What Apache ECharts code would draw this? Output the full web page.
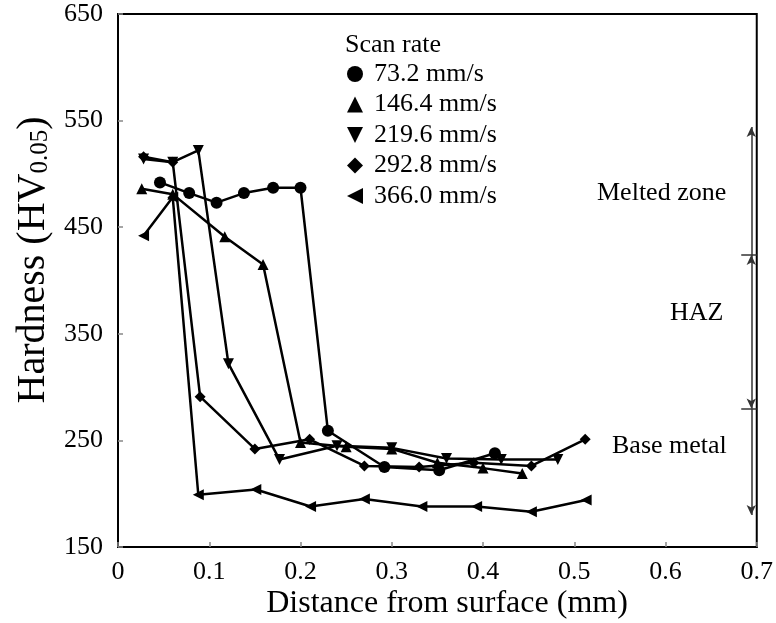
<!DOCTYPE html>
<html>
<head>
<meta charset="utf-8">
<script src="https://cdn.jsdelivr.net/npm/echarts@6/dist/echarts.min.js"></script>
<style>
  html, body { margin: 0; padding: 0; background: #fff; }
  #chart { width: 776px; height: 623px; }
</style>
</head>
<body>
<div id="chart"></div>
<script>
// hardness profiles, [distance (mm), hardness (HV0.05)]
const rate732 = [[0.046, 492], [0.078, 482], [0.108, 473], [0.138, 482], [0.170, 487], [0.200, 487], [0.230, 259], [0.292, 225], [0.352, 222], [0.413, 238]];
const rate1464 = [[0.026, 486], [0.060, 481], [0.117, 441], [0.159, 415], [0.200, 248], [0.250, 244], [0.300, 242], [0.350, 229], [0.400, 224], [0.443, 219]];
const rate2196 = [[0.028, 514], [0.060, 511], [0.088, 522], [0.121, 322], [0.177, 232], [0.240, 245], [0.300, 243], [0.360, 233], [0.420, 232], [0.482, 232]];
const rate2928 = [[0.028, 516], [0.060, 511], [0.090, 291], [0.150, 242], [0.210, 251], [0.270, 226], [0.330, 225], [0.390, 229], [0.453, 226], [0.512, 251]];
const rate3660 = [[0.028, 442], [0.060, 478], [0.088, 199], [0.151, 204], [0.211, 188], [0.270, 195], [0.333, 188], [0.393, 188], [0.453, 183], [0.513, 194]];

const seriesNames = ["73.2 mm/s", "146.4 mm/s", "219.6 mm/s", "292.8 mm/s", "366.0 mm/s"];
const xTicks = { min: 0, max: 0.7, interval: 0.1 };
const yTicks = { min: 150, max: 650, interval: 100 };

// zone bracket on the right: x position and hardness boundaries
const zoneX = 0.694;
const zoneBounds = [544, 424, 280, 180];

const font = "Liberation Serif";
const downTri = "path://M0,0 L10,0 L5,10 Z";
const leftTri = "path://M0,5 L10,0 L10,10 Z";
const symbols = ["circle", "triangle", downTri, "diamond", leftTri];
const dataSets = [rate732, rate1464, rate2196, rate2928, rate3660];

const chart = echarts.init(document.getElementById("chart"));

const series = dataSets.map((d, i) => ({
  name: seriesNames[i],
  type: "line",
  data: d,
  symbol: symbols[i],
  symbolSize: i === 0 ? 12 : 11,
  showAllSymbol: true,
  animation: false,
  lineStyle: { color: "#000", width: 2.5 },
  itemStyle: { color: "#000" }
}));

// bracket arrows
const seg = (y1, y2, s) => [{ coord: [zoneX, y1], symbol: s[0] }, { coord: [zoneX, y2], symbol: s[1] }];
const tick = (y) => [{ coord: [0.683, y], symbol: "none" }, { coord: [0.7, y], symbol: "none" }];
series.push({
  type: "line",
  data: [],
  animation: false,
  markLine: {
    silent: true,
    symbolSize: [7, 10],
    label: { show: false },
    lineStyle: { color: "#333", width: 1.5, type: "solid" },
    data: [
      seg(zoneBounds[1], zoneBounds[0], ["none", "arrow"]),
      seg(zoneBounds[1], zoneBounds[2], ["arrow", "arrow"]),
      seg(zoneBounds[2], zoneBounds[3], ["none", "arrow"]),
      tick(zoneBounds[1]),
      tick(zoneBounds[2])
    ]
  }
});

const txt = (size) => size + "px " + font;

chart.setOption({
  backgroundColor: "#fff",
  textStyle: { fontFamily: font },
  grid: { left: 118, right: 19, top: 14, bottom: 76, show: true, borderColor: "#000", borderWidth: 2 },
  legend: {
    data: seriesNames.map((n, i) => ({ name: n, icon: symbols[i] })),
    orient: "vertical",
    left: 347,
    top: 61,
    padding: 0,
    itemWidth: 16,
    itemHeight: 16,
    itemGap: 4.5,
    textStyle: { fontFamily: font, fontSize: 26, lineHeight: 26, color: "#000", padding: [0, 0, 0, 6] },
    selectedMode: false
  },
  xAxis: {
    type: "value",
    min: xTicks.min,
    max: xTicks.max,
    interval: xTicks.interval,
    axisLine: { lineStyle: { color: "#000", width: 2 } },
    axisTick: { inside: true, length: 5, lineStyle: { color: "#888", width: 1.5 } },
    axisLabel: { fontFamily: font, fontSize: 26, color: "#000", margin: 12 },
    splitLine: { show: false }
  },
  yAxis: {
    type: "value",
    min: yTicks.min,
    max: yTicks.max,
    interval: yTicks.interval,
    axisLine: { lineStyle: { color: "#000", width: 2 } },
    axisTick: { inside: true, length: 5, lineStyle: { color: "#888", width: 1.5 } },
    axisLabel: { fontFamily: font, fontSize: 26, color: "#000", margin: 15 },
    splitLine: { show: false }
  },
  graphic: [
    { type: "text", left: 345, top: 32, style: { text: "Scan rate", font: txt(26), fill: "#000" } },
    { type: "text", left: 597, top: 180, style: { text: "Melted zone", font: txt(26), fill: "#000" } },
    { type: "text", left: 670, top: 300, style: { text: "HAZ", font: txt(26), fill: "#000" } },
    { type: "text", left: 612, top: 433, style: { text: "Base metal", font: txt(26), fill: "#000" } },
    {
      type: "text", x: 447, y: 604,
      style: { text: "Distance from surface (mm)", font: txt(32), fill: "#000", align: "center", verticalAlign: "middle" }
    },
    {
      type: "text", x: 33, y: 260, rotation: Math.PI / 2,
      style: {
        text: "{a|Hardness (HV}{b|0.05}{a|)}",
        align: "center",
        verticalAlign: "middle",
        rich: {
          a: { fontFamily: font, fontSize: 40, fill: "#000", color: "#000" },
          b: { fontFamily: font, fontSize: 25, fill: "#000", color: "#000", padding: [15, 0, 0, 0] }
        }
      }
    }
  ],
  series: series
});
</script>
</body>
</html>
